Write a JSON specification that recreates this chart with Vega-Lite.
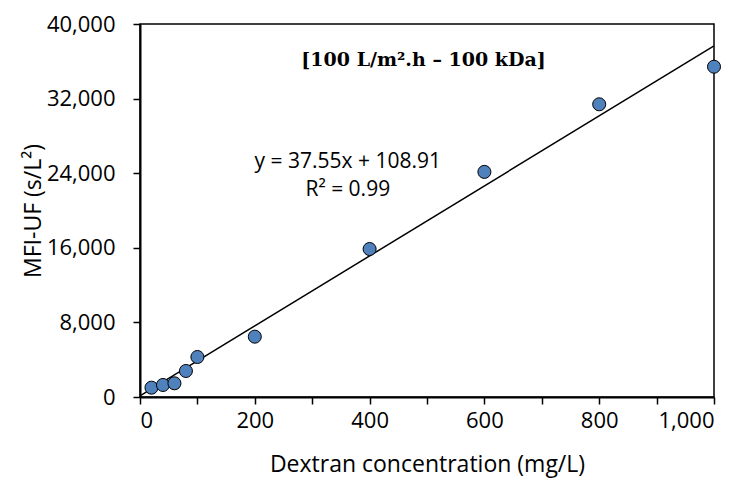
{
  "$schema": "https://vega.github.io/schema/vega-lite/v6.json",
  "width": 574,
  "height": 373,
  "autosize": {"type": "none"},
  "padding": {"left": 140, "top": 24, "right": 33, "bottom": 82},
  "background": "white",
  "config": {
    "view": {"stroke": "black", "strokeWidth": 1.5},
    "font": "Open Sans",
    "axis": {
      "grid": false,
      "domainColor": "black",
      "domainWidth": 2,
      "tickColor": "black",
      "tickWidth": 1.5,
      "tickSize": 7,
      "labelFont": "Open Sans",
      "labelFontSize": 22,
      "labelColor": "black",
      "titleFont": "Open Sans",
      "titleFontSize": 23,
      "titleFontWeight": "normal",
      "titleColor": "black"
    }
  },
  "datasets": {
    "points": [
      {"conc": 20, "mfi": 1000},
      {"conc": 40, "mfi": 1290},
      {"conc": 60, "mfi": 1470},
      {"conc": 80, "mfi": 2790},
      {"conc": 100, "mfi": 4290},
      {"conc": 200, "mfi": 6470},
      {"conc": 400, "mfi": 15870},
      {"conc": 600, "mfi": 24140},
      {"conc": 800, "mfi": 31390},
      {"conc": 1000, "mfi": 35420}
    ],
    "fit": [
      {"conc": 0, "mfi": 108.91},
      {"conc": 1000, "mfi": 37658.91}
    ],
    "notes": [
      {"conc": 362, "mfi": 25250, "label": "y = 37.55x + 108.91"},
      {"conc": 362, "mfi": 22250, "label": "R² = 0.99"}
    ],
    "title": [
      {"conc": 494, "mfi": 36100, "label": "[100 L/m².h – 100 kDa]"}
    ]
  },
  "layer": [
    {
      "data": {"name": "fit"},
      "mark": {"type": "line", "color": "black", "strokeWidth": 1.5},
      "encoding": {
        "x": {
          "field": "conc", "type": "quantitative",
          "scale": {"domain": [0, 1000], "nice": false},
          "axis": {
            "title": "Dextran concentration (mg/L)",
            "values": [0, 100, 200, 300, 400, 500, 600, 700, 800, 900, 1000],
            "labelExpr": "datum.value % 200 === 0 ? format(datum.value, ',') : ''",
            "labelPadding": 6,
            "titlePadding": 22
          }
        },
        "y": {
          "field": "mfi", "type": "quantitative",
          "scale": {"domain": [0, 40000], "nice": false},
          "axis": {
            "title": "MFI-UF (s/L²)",
            "values": [0, 4000, 8000, 12000, 16000, 20000, 24000, 28000, 32000, 36000, 40000],
            "labelExpr": "datum.value % 8000 === 0 ? format(datum.value, ',') : ''",
            "labelPadding": 18,
            "titlePadding": 1
          }
        }
      }
    },
    {
      "data": {"name": "points"},
      "mark": {"type": "point", "shape": "circle", "filled": true, "fill": "#4F81BD", "stroke": "black", "strokeWidth": 1, "size": 170, "opacity": 1},
      "encoding": {
        "x": {"field": "conc", "type": "quantitative"},
        "y": {"field": "mfi", "type": "quantitative"}
      }
    },
    {
      "data": {"name": "notes"},
      "mark": {"type": "text", "font": "Open Sans", "fontSize": 21, "color": "black", "align": "center", "baseline": "middle"},
      "encoding": {
        "x": {"field": "conc", "type": "quantitative"},
        "y": {"field": "mfi", "type": "quantitative"},
        "text": {"field": "label"}
      }
    },
    {
      "data": {"name": "title"},
      "mark": {"type": "text", "font": "DejaVu Serif", "fontWeight": "bold", "fontSize": 19, "color": "black", "align": "center", "baseline": "middle"},
      "encoding": {
        "x": {"field": "conc", "type": "quantitative"},
        "y": {"field": "mfi", "type": "quantitative"},
        "text": {"field": "label"}
      }
    }
  ]
}
